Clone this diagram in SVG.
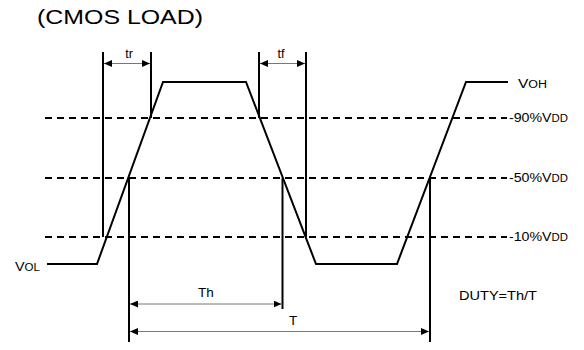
<svg xmlns="http://www.w3.org/2000/svg" width="584" height="350" viewBox="0 0 584 350">
<defs>
<marker id="ah" markerWidth="8" markerHeight="7" refX="8" refY="3.5" orient="auto-start-reverse" markerUnits="userSpaceOnUse">
<path d="M0,0 L8,3.5 L0,7 Z" fill="#000"/>
</marker>
</defs>
<style>
.t{font-family:"Liberation Sans",Arial,sans-serif;fill:#000}
.w{fill:none;stroke:#000;stroke-width:2;stroke-linejoin:miter}
.v{stroke:#000;stroke-width:2}
.d{stroke:#000;stroke-width:2;stroke-dasharray:7,5}
.a{stroke:#777;stroke-width:1;marker-start:url(#ah);marker-end:url(#ah)}
</style>
<rect width="584" height="350" fill="#fff"/>
<text class="t" x="37" y="24" font-size="21" textLength="166" lengthAdjust="spacingAndGlyphs">(CMOS LOAD)</text>
<g id="levels">
<line class="d" x1="45" y1="118" x2="507" y2="118"/>
<line class="d" x1="45" y1="178" x2="507" y2="178"/>
<line class="d" x1="45" y1="237" x2="507" y2="237"/>
</g>
<g id="waveform">
<polyline class="w" points="47,264 97,264 163,82 246,82 316,264 397,264 466,82 508,82"/>
</g>
<g id="connectors">
<line class="v" x1="103" y1="52" x2="103" y2="237"/>
<line class="v" x1="151" y1="52" x2="151" y2="118"/>
<line class="v" x1="259" y1="52" x2="259" y2="118"/>
<line class="v" x1="306" y1="52" x2="306" y2="237"/>
<line class="v" x1="129" y1="178" x2="129" y2="342"/>
<line class="v" x1="282.5" y1="178" x2="282.5" y2="309"/>
<line class="v" x1="430" y1="178" x2="430" y2="342"/>
<line class="a" x1="104" y1="63.5" x2="150" y2="63.5"/>
<line class="a" x1="260" y1="63.5" x2="305" y2="63.5"/>
<line class="a" x1="130" y1="304" x2="281.5" y2="304"/>
<line class="a" x1="130" y1="331.5" x2="429" y2="331.5"/>
</g>
<g id="labels">
<text class="t" x="129" y="58" font-size="12.5" text-anchor="middle">tr</text>
<text class="t" x="281" y="58" font-size="12.5" text-anchor="middle">tf</text>
<text class="t" x="206" y="297" font-size="13.5" text-anchor="middle">Th</text>
<text class="t" x="293" y="325" font-size="13.5" text-anchor="middle">T</text>
<text class="t" x="459" y="300" font-size="13" textLength="78" lengthAdjust="spacingAndGlyphs">DUTY=Th/T</text>
<text class="t" x="15" y="271" font-size="12.5" textLength="25" lengthAdjust="spacingAndGlyphs">V<tspan font-size="10">OL</tspan></text>
<text class="t" x="518" y="88" font-size="12.5" textLength="29" lengthAdjust="spacingAndGlyphs">V<tspan font-size="10">OH</tspan></text>
<text class="t" x="509" y="122" font-size="12.5" textLength="59" lengthAdjust="spacingAndGlyphs">-90%V<tspan font-size="10">DD</tspan></text>
<text class="t" x="509" y="182" font-size="12.5" textLength="59" lengthAdjust="spacingAndGlyphs">-50%V<tspan font-size="10">DD</tspan></text>
<text class="t" x="509" y="241" font-size="12.5" textLength="59" lengthAdjust="spacingAndGlyphs">-10%V<tspan font-size="10">DD</tspan></text>
</g>
</svg>
